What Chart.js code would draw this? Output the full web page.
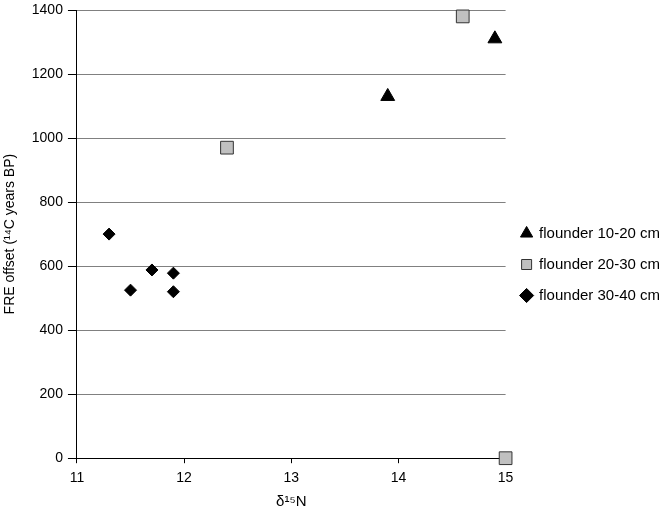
<!DOCTYPE html>
<html>
<head>
<meta charset="utf-8">
<script src="https://cdn.jsdelivr.net/npm/chart.js@4/dist/chart.umd.min.js"></script>
<style>
  body { margin: 0; background: #fff; }
  #wrap { width: 667px; height: 509px; }
</style>
</head>
<body>
<div id="wrap"><canvas id="chart" width="667" height="509"></canvas></div>
<script>
const seriesNames = ['flounder 10-20 cm', 'flounder 20-30 cm', 'flounder 30-40 cm']
const flounder1020X = [13.9, 14.9]
const flounder1020Y = [1130, 1310]
const flounder2030X = [12.4, 14.6, 15.0]
const flounder2030Y = [970, 1380, 0]
const flounder3040X = [11.3, 11.5, 11.7, 11.9, 11.9]
const flounder3040Y = [700, 525, 588, 578, 520]
const xTicks = [11, 12, 13, 14, 15]
const yTicks = [0, 200, 400, 600, 800, 1000, 1200, 1400]

function pts(xs, ys) {
  return xs.map((x, i) => ({ x: x, y: ys[i] }))
}

const fam = 'Liberation Sans, Arial, sans-serif'
const tickFont = { family: fam, size: 14, lineHeight: 1.2 }
const yTickFont = { family: fam, size: 14, lineHeight: 0.3 }
const titleFont = { family: fam, size: 14, lineHeight: 1.2 }
const xTitleFont = { family: fam, size: 15, lineHeight: 1 }
const legendFont = { family: fam, size: 15 }

new Chart(document.getElementById('chart'), {
  type: 'scatter',
  data: {
    datasets: [
      { label: seriesNames[0], data: pts(flounder1020X, flounder1020Y), pointStyle: 'triangle', pointRadius: 8, backgroundColor: '#000', borderColor: '#000', borderWidth: 1, clip: false },
      { label: seriesNames[1], data: pts(flounder2030X, flounder2030Y), pointStyle: 'rect', pointRadius: 9, backgroundColor: '#c0c0c0', borderColor: '#333', borderWidth: 1, clip: false },
      { label: seriesNames[2], data: pts(flounder3040X, flounder3040Y), pointStyle: 'rectRot', pointRadius: 6, backgroundColor: '#000', borderColor: '#000', borderWidth: 1, clip: false }
    ]
  },
  options: {
    responsive: false,
    animation: false,
    layout: { padding: { top: -2, right: -3, left: 0, bottom: 0 } },
    plugins: {
      tooltip: { enabled: false },
      legend: {
        position: 'right',
        align: 'center',
        title: { display: true, text: ' ', font: { size: 10 }, padding: { top: 5, bottom: 5 } },
        labels: {
          usePointStyle: true,
          boxWidth: 10,
          boxHeight: 10,
          padding: 16,
          color: '#000',
          font: legendFont
        }
      }
    },
    scales: {
      x: {
        type: 'linear',
        min: 11,
        max: 15,
        afterBuildTicks: axis => { axis.ticks = xTicks.map(v => ({ value: v })) },
        border: { color: '#000', width: 1 },
        grid: { drawOnChartArea: false, tickLength: 5, color: '#000' },
        ticks: { color: '#000', font: tickFont, padding: 7, callback: v => String(v) },
        title: { display: true, text: 'δ¹⁵N', color: '#000', font: xTitleFont, padding: { top: 0, bottom: 0 } }
      },
      y: {
        type: 'linear',
        min: 0,
        max: 1400,
        afterBuildTicks: axis => { axis.ticks = yTicks.map(v => ({ value: v })) },
        border: { color: '#000', width: 1 },
        grid: { color: '#808080', tickColor: '#000', tickLength: 9 },
        ticks: { color: '#000', font: yTickFont, padding: 5, callback: v => String(v) },
        title: { display: true, text: 'FRE offset (¹⁴C years BP)', color: '#000', font: titleFont, padding: { top: 2, bottom: 8 } }
      }
    }
  }
})
</script>
</body>
</html>
